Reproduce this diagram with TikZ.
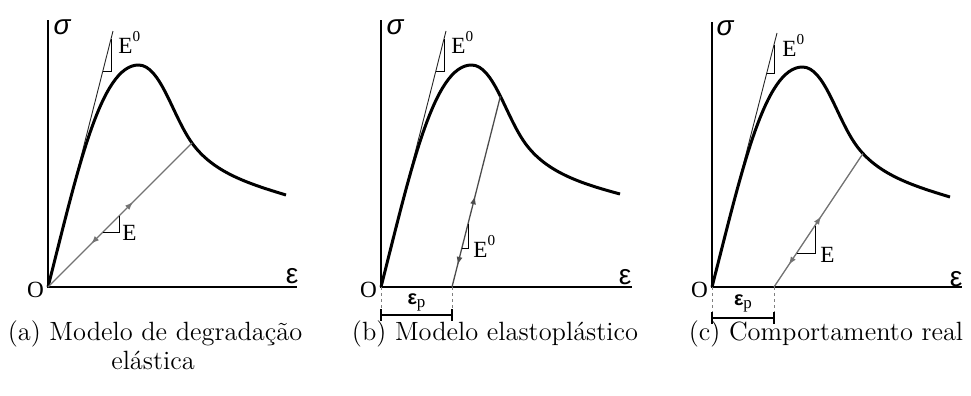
\documentclass[tikz,border=0pt]{standalone}
\usepackage{fontspec}
\newfontfamily\tnrf{Liberation Serif}
\newfontfamily\arialf{Liberation Sans}
\usetikzlibrary{arrows.meta,decorations.markings,intersections}
\newcommand\Ezero{E\raisebox{6pt}{\fontsize{7.6}{8}\selectfont 0}}
\newcommand\epsp{{\arialf\bfseries\fontsize{10}{10}\selectfont ε}{\tnrf\fontsize{8.5}{8}\selectfont\raisebox{-1.5pt}{p}}}
\tikzset{
  axisline/.style={line width=1.35pt},
  sscurve/.style={line width=1.5pt, line join=round},
  tangent/.style={line width=0.45pt, draw=black!85},
  unload/.style={line width=0.65pt, draw=black!55},
  tri/.style={line width=0.45pt},
  lbl/.style={font=\tnrf\fontsize{11.6}{12}\selectfont, inner sep=0pt},
  sig/.style={font=\arialf\itshape\fontsize{14}{14}\selectfont, inner sep=0pt},
  epsl/.style={font=\arialf\fontsize{14}{14}\selectfont, inner sep=0pt},
  captxt/.style={font=\fontsize{13.2}{14}\selectfont, inner sep=0pt, anchor=base},
  dimdash/.style={dash pattern=on 1.5pt off 1.5pt, draw=black!50, line width=0.45pt},
  dimbar/.style={line width=0.6pt},
  marks/.style 2 args={postaction={decorate, decoration={markings,
     mark=at position #1 with {\arrow{Latex[length=4pt,width=3pt]}},
     mark=at position #2 with {\arrowreversed{Latex[length=4pt,width=3pt]}}}}}
}
\begin{document}
\begin{tikzpicture}[x=0.5pt,y=-0.5pt]
\useasboundingbox (0,0) rectangle (971,396);

% ---------------- panel (a)
\begin{scope}[shift={(48,287)}]
  \coordinate (aO) at (0,0);
  \coordinate (aY) at (0,-267);
  \coordinate (aX) at (249,0);
  \draw[axisline] (aY) -- (aO) -- (aX);
  \coordinate (aT) at (65,-256);
  \draw[tangent] (aO) -- (aT);
  \draw[tri] (54.8,-216) -- (63,-216) -- (63,-248);
  \draw[sscurve] (aO) .. controls (29.5,-116) and (52.5,-222) .. (90.5,-222)
     .. controls (112.5,-222) and (124.3,-171.5) .. (144,-144)
     .. controls (164.9,-114.8) and (199.7,-103.6) .. (238,-92);
  \coordinate (aU) at (144,-144);
  \draw[unload, marks={0.59}{0.3}] (aO) -- (aU);
  \draw[tri] (55,-55) -- (71,-55) -- (71,-71);
  \node[lbl, anchor=base west] (aE0) at (70,-233) {\Ezero};
  \node[lbl, anchor=base west] (aE) at (74,-47) {E};
  \node[lbl] (aOl) at (-12.5,2.5) {O};
  \node[sig] (asig) at (14,-260) {σ};
  \node[epsl] (aeps) at (244,-11) {ε};
\end{scope}
\node[captxt] (capa1) at (155,340) {(a) Modelo de degradação};
\node[captxt] (capa2) at (153,369) {elástica};

% ---------------- panel (b)
\begin{scope}[shift={(381,287)}]
  \coordinate (bO) at (0,0);
  \coordinate (bY) at (0,-267);
  \coordinate (bX) at (251,0);
  \draw[axisline] (bY) -- (bO) -- (bX);
  \coordinate (bT) at (65,-256);
  \draw[tangent] (bO) -- (bT);
  \draw[tri] (54.8,-216) -- (63,-216) -- (63,-248);
  \draw[sscurve, name path=cb] (bO) .. controls (29.5,-116) and (52.5,-222) .. (90.5,-222)
     .. controls (112.5,-222) and (124.3,-171.5) .. (144,-144)
     .. controls (164.9,-114.8) and (199.7,-103.6) .. (239,-93);
  \coordinate (bS) at (71,0);
  \path[name path=lb] (bS) -- (136,-256);
  \path[name intersections={of=cb and lb, by=bU}];
  \draw[unload, draw=black!70, marks={0.476}{0.116}] (bS) -- (bU);
  \draw[tri] (80.9,-39) -- (87,-39) -- (87,-63);
  \node[lbl, anchor=base west] (bE0) at (70,-233) {\Ezero};
  \node[lbl, anchor=base west] (bE) at (92,-30) {\Ezero};
  \node[lbl] (bOl) at (-12.5,2.5) {O};
  \node[sig] (bsig) at (14,-260) {σ};
  \node[epsl] (beps) at (244,-10) {ε};
  \coordinate (bd1) at (0,28);
  \coordinate (bd2) at (71,28);
  \draw[dimdash] (bO) -- (bd1);
  \draw[dimdash] (bS) -- (bd2);
  \draw[dimbar] (bd1) -- (bd2);
  \draw[dimbar] (0,22) -- (0,34);
  \draw[dimbar] (71,22) -- (71,34);
  \node[inner sep=0pt] (bep) at (35.5,15) {\epsp};
\end{scope}
\node[captxt] (capb) at (495,340) {(b) Modelo elastoplástico};

% ---------------- panel (c)
\begin{scope}[shift={(712,287)}]
  \coordinate (cO) at (0,0);
  \coordinate (cY) at (0,-265);
  \coordinate (cX) at (250,0);
  \draw[axisline] (cY) -- (cO) -- (cX);
  \coordinate (cT) at (65,-254);
  \draw[tangent] (cO) -- (cT);
  \draw[tri] (54.8,-214) -- (62,-214) -- (62,-242);
  \draw[sscurve, name path=cc] (cO) .. controls (29.5,-115) and (52.5,-220) .. (90.5,-220)
     .. controls (112.5,-220) and (124.3,-169.5) .. (144,-142)
     .. controls (164.9,-112.8) and (199.7,-101.6) .. (238,-90);
  \coordinate (cS) at (62,0);
  \path[name path=lc] (cS) -- (222,-240);
  \path[name intersections={of=cc and lc, by=cU}];
  \draw[unload, marks={0.53}{0.167}] (cS) -- (cU);
  \draw[tri] (84.7,-34) -- (103,-34) -- (103,-61.5);
  \node[lbl, anchor=base west] (cE0) at (70,-231) {\Ezero};
  \node[lbl, anchor=base west] (cE) at (108,-25) {E};
  \node[lbl] (cOl) at (-12.5,2.5) {O};
  \node[sig] (csig) at (13,-259) {σ};
  \node[epsl] (ceps) at (244,-8) {ε};
  \coordinate (cd1) at (0,31);
  \coordinate (cd2) at (62,31);
  \draw[dimdash] (cO) -- (cd1);
  \draw[dimdash] (cS) -- (cd2);
  \draw[dimbar] (cd1) -- (cd2);
  \draw[dimbar] (0,25) -- (0,37);
  \draw[dimbar] (62,25) -- (62,37);
  \node[inner sep=0pt] (cep) at (31,16) {\epsp};
\end{scope}
\node[captxt] (capc) at (826,340) {(c) Comportamento real};
\end{tikzpicture}
\end{document}
